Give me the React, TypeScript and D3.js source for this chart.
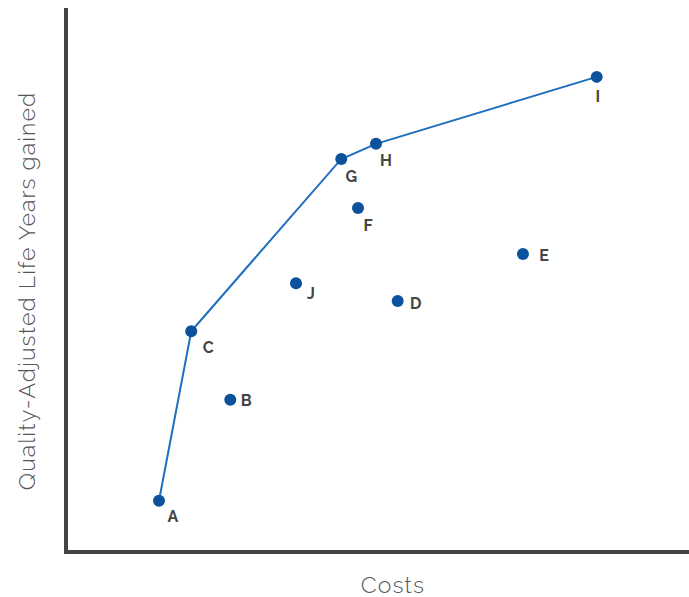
import React from "react";
import * as d3 from "d3";

const labels = ["A", "B", "C", "D", "E", "F", "G", "H", "I", "J"];
const costs = [15.0, 26.5, 20.2, 53.5, 73.7, 47.1, 44.4, 50.0, 85.6, 37.1];
const qalys = [9.3, 28.0, 40.7, 46.3, 55.0, 63.5, 72.6, 75.4, 87.8, 49.6];
const frontier = ["A", "C", "G", "H", "I"];
// label offsets (dx, dy) in px
const labelDx = [14, 16, 17, 18, 21, 10, 10, 10, 1, 15];
const labelDy = [16, 1, 16, 3, 1, 17, 18, 17, 20, 10];

const W = 689;
const H = 597;

export default function App() {
  const x = d3.scaleLinear().domain([0, 100]).range([66, 686]);
  const y = d3.scaleLinear().domain([0, 100]).range([551, 11]);
  const pts = labels.map((l, i) => ({ l, c: costs[i], q: qalys[i], dx: labelDx[i], dy: labelDy[i] }));
  const byLabel = new Map(pts.map((p) => [p.l, p]));
  const line = d3
    .line<{ c: number; q: number }>()
    .x((d) => x(d.c))
    .y((d) => y(d.q));
  const path = line(frontier.map((f) => byLabel.get(f)!)) || "";
  const font = "Raleway, Lato, 'Open Sans', sans-serif";
  return (
    <svg
      width={W}
      height={H}
      style={{ position: "absolute", left: 0, top: 0, display: "block", background: "#fff" }}
    >
      <line x1={66} x2={66} y1={8} y2={554} stroke="#444" strokeWidth={4} />
      <line x1={64} x2={689} y1={552} y2={552} stroke="#444" strokeWidth={4} />
      <path d={path} fill="none" stroke="#1f6fbf" strokeWidth={2} />
      {pts.map((p) => (
        <g key={p.l}>
          <circle cx={x(p.c)} cy={y(p.q)} r={6} fill="#0b519c" />
          <text
            x={x(p.c) + p.dx}
            y={y(p.q) + p.dy}
            fontFamily={font}
            fontWeight={700}
            fontSize={16}
            fill="#444"
            textAnchor="middle"
            dominantBaseline="central"
          >
            {p.l}
          </text>
        </g>
      ))}
      <text
        x={393}
        y={584}
        fontFamily={font}
        fontWeight={300}
        fontSize={23}
        letterSpacing={1.1}
        fill="#555"
        textAnchor="middle"
        dominantBaseline="central"
      >
        Costs
      </text>
      <text
        transform="translate(26,291) rotate(-90)"
        fontFamily={font}
        fontWeight={300}
        fontSize={23}
        letterSpacing={1.1}
        fill="#555"
        textAnchor="middle"
        dominantBaseline="central"
      >
        Quality-Adjusted Life Years gained
      </text>
    </svg>
  );
}
